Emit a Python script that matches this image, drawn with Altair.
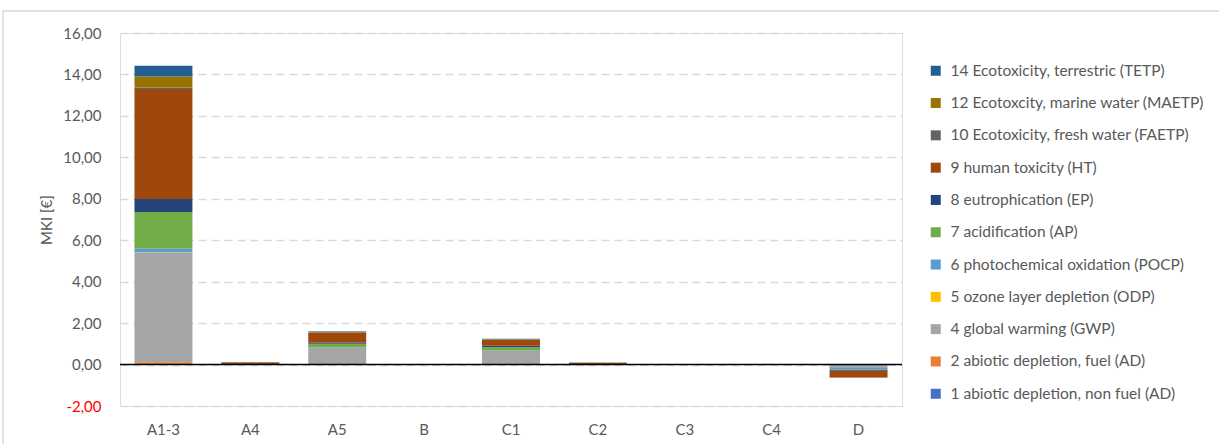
import altair as alt
import pandas as pd

categories = ["A1-3", "A4", "A5", "B", "C1", "C2", "C3", "C4", "D"]

series_names = [
    "1 abiotic depletion, non fuel (AD)",
    "2 abiotic depletion, fuel (AD)",
    "4 global warming (GWP)",
    "5 ozone layer depletion (ODP)",
    "6 photochemical oxidation (POCP)",
    "7 acidification (AP)",
    "8 eutrophication (EP)",
    "9 human toxicity (HT)",
    "10 Ecotoxicity, fresh water (FAETP)",
    "12 Ecotoxcity, marine water (MAETP)",
    "14 Ecotoxicity, terrestric (TETP)",
]
series_colors = ["#4472C4", "#ED7D31", "#A5A5A5", "#FFC000", "#5B9BD5", "#70AD47",
                 "#264478", "#9E480E", "#636363", "#997300", "#255E91"]

ad_nonfuel = [0.01, 0.0, 0.0, 0.0, 0.0, 0.0, 0.0, 0.0, 0.0]
ad_fuel = [0.10, 0.0, 0.01, 0.0, 0.01, 0.0, 0.0, 0.0, -0.01]
gwp = [5.30, 0.02, 0.80, 0.0, 0.65, 0.01, 0.0, 0.0, -0.12]
odp = [0.005, 0.0, 0.0, 0.0, 0.0, 0.0, 0.0, 0.0, 0.0]
pocp = [0.17, 0.0, 0.02, 0.0, 0.02, 0.0, 0.0, 0.0, -0.10]
ap = [1.78, 0.005, 0.18, 0.0, 0.16, 0.0, 0.0, 0.0, -0.02]
ep = [0.62, 0.005, 0.04, 0.0, 0.07, 0.0, 0.0, 0.0, -0.05]
ht = [5.31, 0.07, 0.50, 0.0, 0.28, 0.07, 0.0, 0.0, -0.32]
faetp = [0.08, 0.0, 0.01, 0.0, 0.01, 0.0, 0.0, 0.0, -0.01]
maetp = [0.52, 0.01, 0.02, 0.0, 0.02, 0.01, 0.0, 0.0, -0.01]
tetp = [0.53, 0.015, 0.03, 0.0, 0.03, 0.015, 0.0, 0.0, 0.0]

all_series = [ad_nonfuel, ad_fuel, gwp, odp, pocp, ap, ep, ht, faetp, maetp, tetp]

rows = []
for si, (name, vals) in enumerate(zip(series_names, all_series)):
    for ci, cat in enumerate(categories):
        rows.append({"cat": cat, "series": name, "value": vals[ci], "idx": si})
df = pd.DataFrame(rows)

FONT = "Lato"
GREY = "#595959"
W, H = 782, 373

xenc = alt.X("cat:N", sort=categories, title=None,
             scale=alt.Scale(paddingInner=0.333, paddingOuter=0.1665),
             axis=alt.Axis(orient="bottom", domain=False, ticks=False, labelAngle=0,
                           labelPadding=16, labelFont=FONT, labelFontSize=15,
                           labelColor=GREY, grid=False))

bars = alt.Chart(df).mark_bar().encode(
    x=xenc,
    y=alt.Y("value:Q", stack="zero", title="MKI [€]",
            scale=alt.Scale(domain=[-2, 16], nice=False, zero=False),
            axis=alt.Axis(values=[-2, 0, 2, 4, 6, 8, 10, 12, 14, 16],
                          labelExpr="replace(replace(format(datum.value, '.2f'), '.', ','), '\u2212', '-')",
                          labelColor={"condition": {"test": "datum.value < 0", "value": "#FF0000"}, "value": GREY},
                          labelFont=FONT, labelFontSize=15, labelPadding=19,
                          domain=False, ticks=False,
                          grid=True, gridColor="#D9D9D9", gridDash=[8, 5], gridWidth=1.3,
                          titleFont=FONT, titleFontSize=15, titleColor=GREY,
                          titleFontWeight="normal", titlePadding=8)),
    color=alt.Color("series:N", sort=series_names[::-1],
                    scale=alt.Scale(domain=series_names[::-1], range=series_colors[::-1]),
                    legend=alt.Legend(title=None, orient="none", legendX=808, legendY=30,
                                      symbolType="square", symbolSize=100, symbolStrokeWidth=0,
                                      labelFont=FONT, labelFontSize=15.5, labelColor=GREY,
                                      labelLimit=400, rowPadding=15.3, labelOffset=7)),
    order=alt.Order("idx:Q", sort="ascending"),
)

zero_df = pd.DataFrame({"v": [0]})
zero_line = alt.Chart(zero_df).mark_rule(color="#000000", strokeWidth=1.5).encode(
    y=alt.Y("v:Q"),
    x=alt.value(0), x2=alt.value(W),
)

border = alt.Chart(zero_df).mark_rect(fill=None, stroke="#D9D9D9", strokeWidth=1.5, clip=False).encode(
    x=alt.value(-117), x2=alt.value(W + 320), y=alt.value(-22), y2=alt.value(H + 60),
)

chart = alt.layer(border, bars, zero_line).properties(
    width=W, height=H,
    autosize=alt.AutoSizeParams(type="none"),
    padding={"left": 120, "top": 33, "right": 317, "bottom": 38},
).configure_view(stroke=None).configure(background="white")

chart.save("out.html", embed_options={"renderer": "svg", "actions": False})
